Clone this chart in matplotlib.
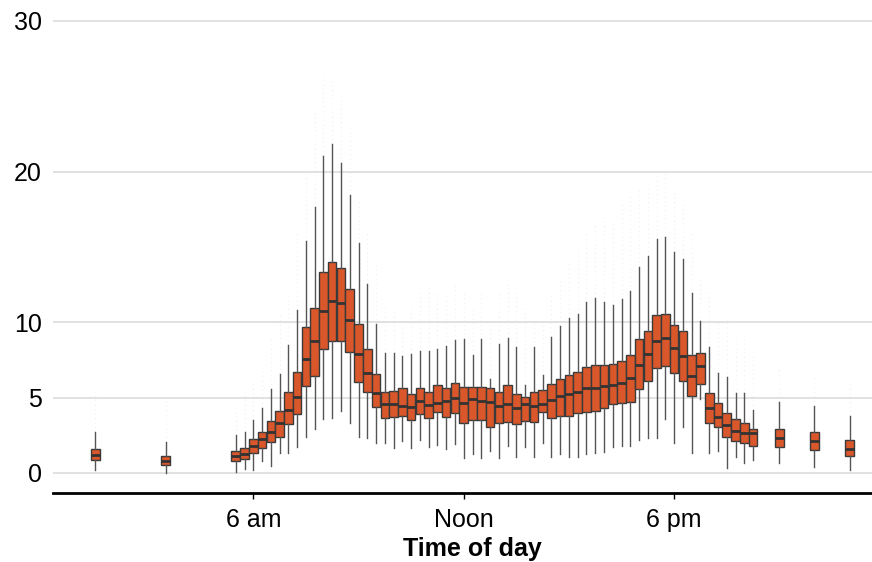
import numpy as np
import matplotlib
matplotlib.use("Agg")
import matplotlib.pyplot as plt

# HOUR OF DAY FOR EACH BOX (15 MINUTE BINS THROUGH THE DAY, HOURLY AT NIGHT)
hours = [1.5, 3.5] + [5.5 + 0.25 * i for i in range(60)] + [21, 22, 23]

# BOX STATISTICS PER BIN
whisker_low = [0.20, 0.02,
               0.09, 0.25, 0.20, 0.80, 0.48, 1.35, 1.35, 1.75, 2.41, 2.90, 3.56, 3.63,
               4.13, 3.30, 2.37, 2.30, 1.97, 2.01, 1.64, 2.14, 1.64, 2.19, 1.75, 1.88,
               1.57, 1.92, 0.97, 1.26, 0.97, 1.48, 0.97, 1.79, 1.08, 1.75, 1.08, 2.01,
               1.04, 1.26, 1.08, 1.08, 1.24, 1.31, 1.37, 1.75, 1.79, 1.79, 2.19, 2.34,
               2.30, 3.56, 1.97, 3.03, 1.31, 4.89, 1.31, 1.46, 0.31, 1.08, 0.64, 0.86,
               0.68, 0.42, 0.20]
q1 = [0.84, 0.51,
      0.80, 0.91, 1.35, 1.68, 2.08, 2.41, 3.23, 3.89, 5.77, 6.44, 8.23, 8.78,
      8.76, 8.00, 6.02, 5.35, 4.36, 3.63, 3.70, 3.78, 3.52, 3.92, 3.65, 4.03,
      3.74, 3.96, 3.34, 3.52, 3.52, 3.03, 3.34, 3.36, 3.23, 3.47, 3.40, 4.03,
      3.67, 3.80, 3.80, 3.96, 4.07, 4.13, 4.31, 4.58, 4.62, 4.73, 5.55, 6.08,
      6.95, 7.10, 6.62, 6.08, 5.11, 5.91, 3.30, 3.07, 2.37, 2.12, 1.97, 1.81,
      1.71, 1.53, 1.13]
median = [1.21, 0.82,
          1.15, 1.26, 1.79, 2.26, 2.74, 3.30, 4.18, 5.06, 7.59, 8.78, 10.77, 11.41,
          11.28, 10.15, 7.88, 6.66, 5.29, 4.58, 4.58, 4.45, 4.40, 4.78, 4.51, 4.67,
          4.76, 5.00, 4.62, 4.91, 4.78, 4.73, 4.47, 4.60, 4.29, 4.56, 4.45, 4.56,
          4.82, 5.11, 5.24, 5.37, 5.66, 5.66, 5.77, 5.82, 5.99, 6.30, 7.17, 7.92,
          8.76, 8.94, 8.31, 7.76, 6.46, 7.12, 4.33, 3.74, 3.19, 2.81, 2.63, 2.67,
          2.34, 2.10, 1.59]
q3 = [1.59, 1.13,
      1.48, 1.64, 2.24, 2.74, 3.47, 4.13, 5.40, 6.68, 9.71, 10.93, 13.36, 14.02,
      13.58, 12.19, 9.87, 8.23, 6.59, 5.37, 5.44, 5.66, 5.26, 5.62, 5.40, 5.82,
      5.64, 5.95, 5.69, 5.71, 5.73, 5.62, 5.35, 5.86, 5.26, 5.06, 5.37, 5.49,
      5.91, 6.24, 6.48, 6.72, 7.05, 7.15, 7.15, 7.23, 7.45, 7.83, 8.87, 9.44,
      10.48, 10.57, 9.84, 9.40, 7.81, 7.94, 5.29, 4.62, 3.96, 3.56, 3.34, 2.92,
      2.92, 2.70, 2.19]
whisker_high = [2.74, 2.08,
                2.52, 2.74, 3.52, 4.29, 5.55, 6.55, 8.49, 10.82, 15.39, 17.67, 21.03, 21.83,
                20.55, 18.45, 15.24, 12.54, 9.89, 7.94, 7.98, 7.76, 7.90, 8.10, 8.10, 8.25,
                8.45, 8.83, 8.89, 7.83, 8.89, 6.24, 8.56, 8.94, 8.34, 5.84, 8.34, 6.50,
                9.00, 9.75, 10.27, 10.53, 11.37, 11.59, 11.37, 11.15, 11.55, 12.08, 13.65, 14.40,
                15.53, 15.68, 14.64, 14.20, 11.92, 10.11, 8.34, 6.62, 6.35, 5.29, 5.33, 4.18,
                4.73, 4.45, 3.78]
# LARGEST OUTLIER IN EACH BIN
outlier_max = [5.5, 5.0,
               4.5, 5.5, 6.0, 7.0, 9.0, 10.5, 12.0, 16.0, 20.0, 24.0, 26.5, 26.0,
               25.0, 23.0, 18.0, 16.0, 14.0, 11.0, 11.0, 10.0, 11.0, 12.0, 12.5, 12.0,
               12.0, 12.5, 12.0, 11.0, 12.0, 10.0, 12.0, 13.0, 12.0, 11.0, 10.0, 10.0,
               12.0, 13.0, 14.0, 15.0, 16.0, 16.5, 17.0, 17.0, 18.0, 18.5, 19.0, 19.0,
               20.0, 20.0, 19.0, 18.0, 16.0, 13.0, 12.0, 10.0, 10.0, 9.0, 9.0, 8.0,
               7.0, 6.5, 6.0]

tick_hours = [6, 12, 18]
tick_labels = ["6 am", "Noon", "6 pm"]
y_ticks = [0, 5, 10, 20, 30]

plt.rcParams['font.family'] = ['Liberation Sans', 'DejaVu Sans']

fig = plt.figure(figsize=(8.72, 5.62), dpi=100)
# PANEL RUNS A LITTLE PAST THE RIGHT EDGE OF THE FIGURE
ax = fig.add_axes([53 / 872, 1 - 493 / 562, (892 - 53) / 872, 493 / 562])

# FAINT OUTLIER COLUMNS ABOVE THE WHISKERS
ax.vlines(hours, whisker_high, outlier_max, colors="#e0e0e0", linestyles=(0, (1, 3)),
          linewidth=0.8, alpha=0.45, zorder=1)

stats = []
for i in range(len(hours)):
    stats.append({"whislo": whisker_low[i], "q1": q1[i], "med": median[i],
                  "q3": q3[i], "whishi": whisker_high[i], "fliers": []})

ax.bxp(stats, positions=hours, widths=0.245, patch_artist=True, showcaps=False,
       showfliers=False, manage_ticks=False,
       boxprops=dict(facecolor="#d9572b", edgecolor="#3a3a3a", linewidth=1),
       medianprops=dict(color="#333333", linewidth=2),
       whiskerprops=dict(color="#555555", linewidth=1), zorder=3)

ax.set_xlim(0.29, 24.21)
ax.set_ylim(-1.33, 31.39)

ax.set_yticks(y_ticks)
ax.set_yticklabels([str(t) for t in y_ticks])
ax.set_xticks(tick_hours)
ax.set_xticklabels(tick_labels)
ax.yaxis.grid(True, color="#dcdcdc", linewidth=1.2)
ax.set_axisbelow(True)

for side in ["top", "right", "left"]:
    ax.spines[side].set_visible(False)
ax.spines["bottom"].set_linewidth(2)
ax.spines["bottom"].set_color("black")

ax.tick_params(axis="y", length=0, pad=8, labelsize=18)
ax.tick_params(axis="x", length=4, width=1, pad=6.5, labelsize=18, colors="black")
ax.set_xlabel("Time of day", fontsize=18, fontweight="bold", labelpad=4)

fig.savefig("out.png", dpi=100)
